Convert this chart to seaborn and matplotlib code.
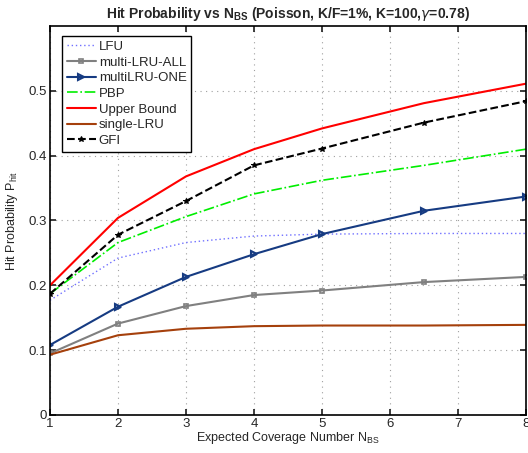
import matplotlib
matplotlib.use("Agg")
import matplotlib.pyplot as plt
import seaborn as sns
import pandas as pd

x_vals = [1, 2, 3, 4, 5, 6.5, 8]
lfu = [0.177, 0.242, 0.266, 0.276, 0.279, 0.280, 0.280]
multi_lru_all = [0.095, 0.141, 0.168, 0.185, 0.192, 0.205, 0.213]
multi_lru_one = [0.108, 0.167, 0.213, 0.248, 0.279, 0.315, 0.337]
pbp = [0.187, 0.266, 0.306, 0.341, 0.362, 0.385, 0.410]
upper_bound = [0.200, 0.304, 0.368, 0.410, 0.442, 0.481, 0.511]
single_lru = [0.093, 0.123, 0.133, 0.137, 0.138, 0.138, 0.139]
gfi = [0.187, 0.278, 0.330, 0.385, 0.411, 0.451, 0.484]

x_ticks = [1, 2, 3, 4, 5, 6, 7, 8]
y_ticks = [0, 0.1, 0.2, 0.3, 0.4, 0.5]

sns.set_theme(style="ticks")
plt.rcParams['font.family'] = ['Liberation Sans', 'DejaVu Sans']

fig = plt.figure(figsize=(5.28, 4.53), dpi=100)
ax = fig.add_axes([0.0947, 0.0839, 0.9013, 0.8587])

series = [
    ("LFU", lfu, dict(color="#7070ff", linestyle=(0, (1, 2)), lw=1.0, marker=None)),
    ("multi-LRU-ALL", multi_lru_all, dict(color="#808080", linestyle="-", lw=1.5, marker="s", ms=3.5, mfc="none", mew=1.2)),
    ("multiLRU-ONE", multi_lru_one, dict(color="#163b82", linestyle="-", lw=1.5, marker=">", ms=5, mfc="none", mew=1.5)),
    ("PBP", pbp, dict(color="#00ee00", linestyle="-.", lw=1.2, marker=None)),
    ("Upper Bound", upper_bound, dict(color="#ff0000", linestyle="-", lw=1.5, marker=None)),
    ("single-LRU", single_lru, dict(color="#a5400c", linestyle="-", lw=1.5, marker=None)),
    ("GFI", gfi, dict(color="#000000", linestyle="--", lw=1.5, marker="*", ms=4)),
]

for name, vals, st in series:
    df = pd.DataFrame({"x": x_vals, "y": vals})
    kw = dict(color=st["color"], linestyle=st["linestyle"], linewidth=st["lw"])
    if st.get("marker"):
        kw.update(marker=st["marker"], markersize=st["ms"])
        if "mfc" in st:
            kw.update(markerfacecolor=st["mfc"], markeredgewidth=st["mew"], markeredgecolor=st["color"])
        else:
            kw.update(markeredgecolor=st["color"], markerfacecolor=st["color"])
    sns.lineplot(data=df, x="x", y="y", ax=ax, label=name, **kw)

ax.set_xlim(1, 8)
ax.set_ylim(0, 0.6)
ax.set_xticks(x_ticks)
ax.set_xticklabels([str(t) for t in x_ticks])
ax.set_yticks(y_ticks)
ax.set_yticklabels(["0"] + [f"{t:.1f}" for t in y_ticks[1:]])
ax.grid(True, linestyle=(0, (1, 4)), color="#a0a0a0", linewidth=0.8)
ax.tick_params(direction="in", top=True, right=True, labelsize=9.5, length=4, pad=2)
for sp in ax.spines.values():
    sp.set_linewidth(1.2)
    sp.set_color("black")
    sp.set_visible(True)

ax.set_xlabel("Expected Coverage Number N$_{\\mathregular{BS}}$", fontsize=9, labelpad=0)
ax.set_ylabel("Hit Probability P$_{\\mathregular{hit}}$", fontsize=9, labelpad=6)
ax.set_title("Hit Probability vs N$_{\\mathregular{BS}}$ (Poisson, K/F=1%, K=100,$\\gamma$=0.78)",
             fontsize=10, fontweight="bold", pad=6)

leg = ax.legend(loc="upper left", bbox_to_anchor=(0.025, 0.974), fontsize=9.5, frameon=True,
                fancybox=False, edgecolor="black", framealpha=1, handlelength=2.2,
                handletextpad=0.25, borderpad=0.35, labelspacing=0.26, borderaxespad=0)
leg.get_frame().set_linewidth(1.0)

fig.savefig("out.png", dpi=100)
